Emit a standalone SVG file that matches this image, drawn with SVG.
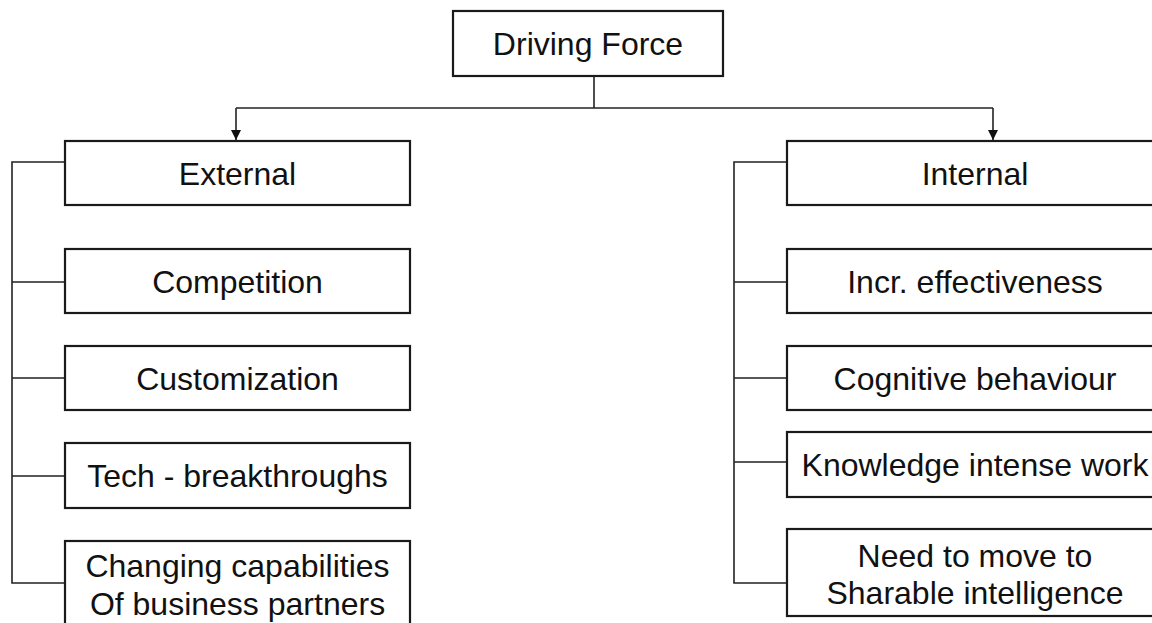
<svg xmlns="http://www.w3.org/2000/svg" width="1152" height="623" viewBox="0 0 1152 623">
  <defs>
    <marker id="arrow" viewBox="0 0 10 10" refX="10" refY="5" markerWidth="10" markerHeight="10" markerUnits="userSpaceOnUse" orient="auto">
      <path d="M0,0 L10,5 L0,10 z" fill="#111"/>
    </marker>
    <style>
      .box { fill: #fff; stroke: #1a1a1a; stroke-width: 2.2; }
      .lbl { font-family: "Liberation Sans", Arial, sans-serif; font-size: 32px; fill: #111; text-anchor: middle; }
      .wire { fill: none; stroke: #222; stroke-width: 1.6; }
    </style>
  </defs>
  <rect width="1152" height="623" fill="#fff"/>

  <!-- connectors -->
  <g id="connectors">
    <path class="wire" d="M594,76 V108"/>
    <path class="wire" d="M236,108 H993"/>
    <path class="wire" d="M236,108 V140" marker-end="url(#arrow)"/>
    <path class="wire" d="M993,108 V140" marker-end="url(#arrow)"/>
    <!-- left bus -->
    <path class="wire" d="M65,162 H12 V583 H65"/>
    <path class="wire" d="M12,282 H65 M12,378 H65 M12,476 H65"/>
    <!-- right bus -->
    <path class="wire" d="M787,162 H734 V583 H787"/>
    <path class="wire" d="M734,282 H787 M734,378 H787 M734,462 H787"/>
  </g>

  <g id="driving-force">
    <rect class="box" x="453" y="11" width="270" height="65"/>
    <text class="lbl" x="588" y="55">Driving Force</text>
  </g>

  <g id="external">
    <rect class="box" x="65" y="141" width="345" height="64"/>
    <text class="lbl" x="237.5" y="185">External</text>
  </g>
  <g id="competition">
    <rect class="box" x="65" y="249" width="345" height="64"/>
    <text class="lbl" x="237.5" y="293">Competition</text>
  </g>
  <g id="customization">
    <rect class="box" x="65" y="346" width="345" height="64"/>
    <text class="lbl" x="237.5" y="390">Customization</text>
  </g>
  <g id="tech-breakthroughs">
    <rect class="box" x="65" y="443" width="345" height="65"/>
    <text class="lbl" x="237.5" y="487">Tech - breakthroughs</text>
  </g>
  <g id="changing-capabilities">
    <rect class="box" x="65" y="541" width="345" height="100"/>
    <text class="lbl" x="237.5" y="577">Changing capabilities</text>
    <text class="lbl" x="237.5" y="615">Of business partners</text>
  </g>

  <g id="internal">
    <rect class="box" x="787" y="141" width="376" height="64"/>
    <text class="lbl" x="975" y="185">Internal</text>
  </g>
  <g id="incr-effectiveness">
    <rect class="box" x="787" y="249" width="376" height="64"/>
    <text class="lbl" x="975" y="293">Incr. effectiveness</text>
  </g>
  <g id="cognitive-behaviour">
    <rect class="box" x="787" y="346" width="376" height="64"/>
    <text class="lbl" x="975" y="390">Cognitive behaviour</text>
  </g>
  <g id="knowledge-intense-work">
    <rect class="box" x="787" y="432" width="376" height="65"/>
    <text class="lbl" x="975" y="476">Knowledge intense work</text>
  </g>
  <g id="sharable-intelligence">
    <rect class="box" x="787" y="529" width="376" height="87"/>
    <text class="lbl" x="975" y="567">Need to move to</text>
    <text class="lbl" x="975" y="604">Sharable intelligence</text>
  </g>
</svg>
